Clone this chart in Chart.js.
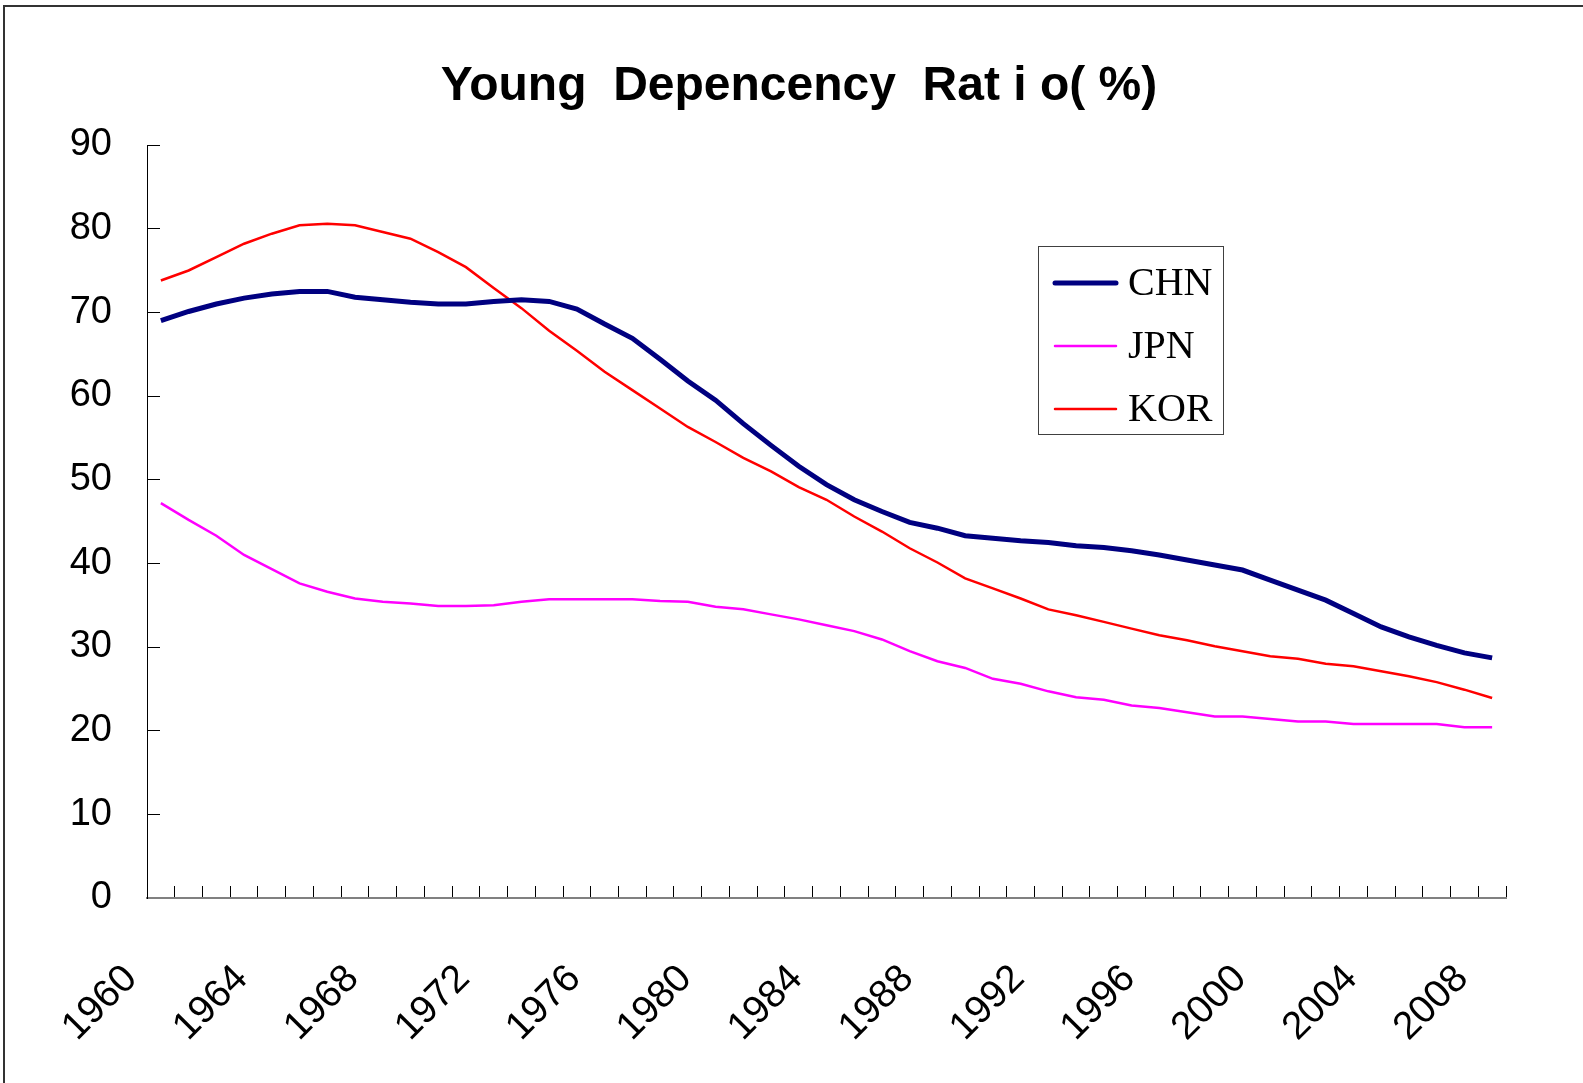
<!DOCTYPE html>
<html>
<head>
<meta charset="utf-8">
<script src="https://cdn.jsdelivr.net/npm/chart.js@4.4.0/dist/chart.umd.min.js"></script>
<style>
    html, body { margin: 0; padding: 0; background: #fff; overflow: hidden; }
    #frame { position: absolute; left: 3px; top: 5px; width: 1700px; height: 1200px; border-left: 2px solid #333; border-top: 2px solid #333; }
    #chart { position: absolute; left: 0; top: 0; }
</style>
</head>
<body>
<div id="frame"></div>
<canvas id="chart" width="1583" height="1083"></canvas>
<script>
const years = [];
for (let y = 1960; y <= 2008; y++) years.push(String(y));

const chn = [69.0, 70.1, 71.0, 71.7, 72.2, 72.5, 72.5, 71.8, 71.5, 71.2,
    71.0, 71.0, 71.3, 71.5, 71.3, 70.4, 68.6, 66.9, 64.4, 61.8,
    59.5, 56.7, 54.1, 51.6, 49.4, 47.6, 46.2, 44.9, 44.2, 43.3,
    43.0, 42.7, 42.5, 42.1, 41.9, 41.5, 41.0, 40.4, 39.8, 39.2,
    38.0, 36.8, 35.6, 34.0, 32.4, 31.2, 30.2, 29.3, 28.7];
const jpn = [47.2, 45.2, 43.3, 41.0, 39.3, 37.6, 36.6, 35.8, 35.4, 35.2,
    34.9, 34.9, 35.0, 35.4, 35.7, 35.7, 35.7, 35.7, 35.5, 35.4,
    34.8, 34.5, 33.9, 33.3, 32.6, 31.9, 30.9, 29.5, 28.3, 27.5,
    26.2, 25.6, 24.7, 24.0, 23.7, 23.0, 22.7, 22.2, 21.7, 21.7,
    21.4, 21.1, 21.1, 20.8, 20.8, 20.8, 20.8, 20.4, 20.4];
const kor = [73.8, 75.0, 76.6, 78.2, 79.4, 80.4, 80.6, 80.4, 79.6, 78.8,
    77.2, 75.4, 72.9, 70.5, 67.8, 65.4, 62.9, 60.7, 58.5, 56.3,
    54.5, 52.6, 51.0, 49.1, 47.6, 45.6, 43.8, 41.8, 40.1, 38.2,
    37.0, 35.8, 34.5, 33.8, 33.0, 32.2, 31.4, 30.8, 30.1, 29.5,
    28.9, 28.6, 28.0, 27.7, 27.1, 26.5, 25.8, 24.9, 23.9];

const yTicks = [0, 10, 20, 30, 40, 50, 60, 70, 80, 90];

// legend drawn as a framed box inside the plot, like the original
const boxLegend = {
    id: 'boxLegend',
    afterDraw(chart) {
        const ctx = chart.ctx;
        ctx.save();
        ctx.strokeStyle = '#404040';
        ctx.lineWidth = 1;
        ctx.strokeRect(1038.5, 246.5, 185, 188);
        chart.data.datasets.forEach(function (ds, i) {
            const y = 283 + i * 63;
            ctx.strokeStyle = ds.borderColor;
            ctx.lineWidth = ds.borderWidth;
            ctx.lineCap = 'round';
            ctx.beginPath();
            ctx.moveTo(1055, y);
            ctx.lineTo(1116, y);
            ctx.stroke();
            ctx.fillStyle = '#000';
            ctx.font = '40px "Liberation Serif", "Times New Roman", serif';
            ctx.textBaseline = 'alphabetic';
            ctx.fillText(ds.label, 1128, y + 12);
        });
        ctx.restore();
    }
};

const ctx = document.getElementById('chart').getContext('2d');
new Chart(ctx, {
    type: 'line',
    data: {
        labels: years,
        datasets: [
            { label: 'CHN', data: chn, borderColor: '#000080', borderWidth: 5, pointRadius: 0, tension: 0 },
            { label: 'JPN', data: jpn, borderColor: '#FF00FF', borderWidth: 2.5, pointRadius: 0, tension: 0 },
            { label: 'KOR', data: kor, borderColor: '#FF0000', borderWidth: 2.5, pointRadius: 0, tension: 0 }
        ]
    },
    options: {
        responsive: false,
        animation: false,
        devicePixelRatio: 1,
        layout: { padding: { left: 15, right: 0, top: 0, bottom: 0 } },
        plugins: {
            legend: { display: false },
            tooltip: { enabled: false },
            title: {
                display: true,
                text: 'Young  Depencency  Rat i o( %)',
                color: '#000',
                font: { family: '"Liberation Sans", Arial, sans-serif', size: 48, weight: 'bold', lineHeight: 1.2 },
                padding: { top: 58, bottom: 29.4 }
            }
        },
        scales: {
            x: {
                type: 'category',
                offset: true,
                afterFit: function (scale) {
                    scale.height = 185;
                    // rotated labels must not push the plot edges in
                    scale.paddingLeft = 0;
                    scale.paddingRight = 0;
                },
                grid: { offset: true, drawOnChartArea: false, drawTicks: true, tickLength: -12, tickColor: '#000', lineWidth: 1 },
                border: { display: true, color: '#808080', width: 2 },
                ticks: {
                    autoSkip: false,
                    minRotation: 45,
                    maxRotation: 45,
                    padding: 70,
                    labelOffset: -30,
                    color: '#000',
                    font: { family: '"Liberation Sans", Arial, sans-serif', size: 39 },
                    callback: function (val, i) { return i % 4 === 0 ? years[i] : ''; }
                }
            },
            y: {
                min: 0,
                max: 90,
                afterFit: function (scale) { scale.width = 132; },
                afterBuildTicks: function (scale) { scale.ticks = yTicks.map(function (v) { return { value: v }; }); },
                grid: { drawOnChartArea: false, drawTicks: true, tickLength: -13, tickColor: '#000', lineWidth: 1 },
                border: { display: true, color: '#000', width: 1 },
                ticks: {
                    padding: 48,
                    color: '#000',
                    font: { family: '"Liberation Sans", Arial, sans-serif', size: 38 }
                }
            },
            // empty right-hand strip so the plot ends where the original does
            yRight: {
                position: 'right',
                min: 0,
                max: 90,
                afterFit: function (scale) { scale.width = 77; },
                grid: { display: false, drawTicks: false },
                border: { display: false },
                ticks: { display: false }
            }
        }
    },
    plugins: [boxLegend]
});
</script>
</body>
</html>
